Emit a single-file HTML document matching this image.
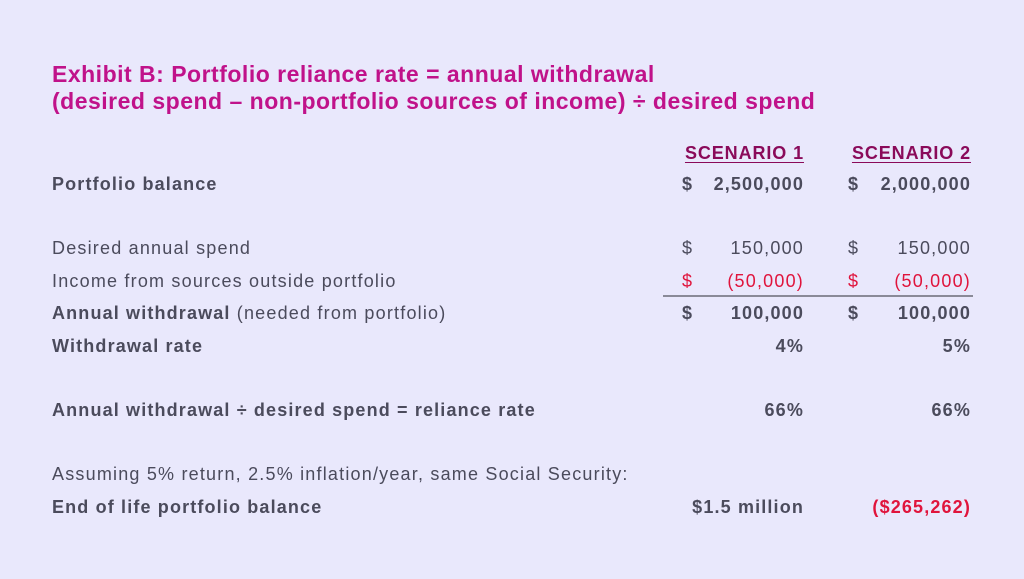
<!DOCTYPE html>
<html><head><meta charset="utf-8"><style>
body{margin:0;width:1024px;height:579px;background:#e9e8fc;font-family:"Liberation Sans",sans-serif;color:#4b4b5c;position:relative;overflow:hidden}
.t{position:absolute;left:52px;color:#c0128a;font-weight:bold;font-size:23px;white-space:nowrap;letter-spacing:0.5px}
.r{position:absolute;left:0;width:1024px;height:24px;font-size:18px;line-height:24px;white-space:nowrap;letter-spacing:1.2px}
.r span{position:absolute}
.l{left:52px}
.d1{left:682px}.d2{left:848px}
.n1{right:220px}.n2{right:53px}
.b{font-weight:bold}
.b,.r b{letter-spacing:1.15px}
.red{color:#e0143c}
.h{font-weight:bold;color:#8a0a5a;text-decoration:underline;text-underline-offset:3px;letter-spacing:0.9px}
</style></head><body>
<div class="t" style="top:61px">Exhibit B: Portfolio reliance rate = annual withdrawal</div>
<div class="t" style="top:88px">(desired spend – non-portfolio sources of income) ÷ desired spend</div>
<div class="r" style="top:141px"><span class="h n1">SCENARIO 1</span><span class="h n2">SCENARIO 2</span></div>
<div class="r b" style="top:172px"><span class="l">Portfolio balance</span><span class="d1">$</span><span class="n1">2,500,000</span><span class="d2">$</span><span class="n2">2,000,000</span></div>
<div class="r" style="top:236px"><span class="l">Desired annual spend</span><span class="d1">$</span><span class="n1">150,000</span><span class="d2">$</span><span class="n2">150,000</span></div>
<div class="r" style="top:269px"><span class="l">Income from sources outside portfolio</span><span class="d1 red">$</span><span class="n1 red">(50,000)</span><span class="d2 red">$</span><span class="n2 red">(50,000)</span></div>
<div style="position:absolute;left:663px;top:295px;width:310px;height:1.5px;background:#8a8a98"></div>
<div class="r" style="top:301px"><span class="l"><b>Annual withdrawal</b> (needed from portfolio)</span><span class="d1 b">$</span><span class="n1 b">100,000</span><span class="d2 b">$</span><span class="n2 b">100,000</span></div>
<div class="r b" style="top:334px"><span class="l">Withdrawal rate</span><span class="n1">4%</span><span class="n2">5%</span></div>
<div class="r b" style="top:398px"><span class="l">Annual withdrawal ÷ desired spend = reliance rate</span><span class="n1">66%</span><span class="n2">66%</span></div>
<div class="r" style="top:462px"><span class="l">Assuming 5% return, 2.5% inflation/year, same Social Security:</span></div>
<div class="r b" style="top:495px"><span class="l">End of life portfolio balance</span><span class="n1">$1.5 million</span><span class="n2 red">($265,262)</span></div>
</body></html>
